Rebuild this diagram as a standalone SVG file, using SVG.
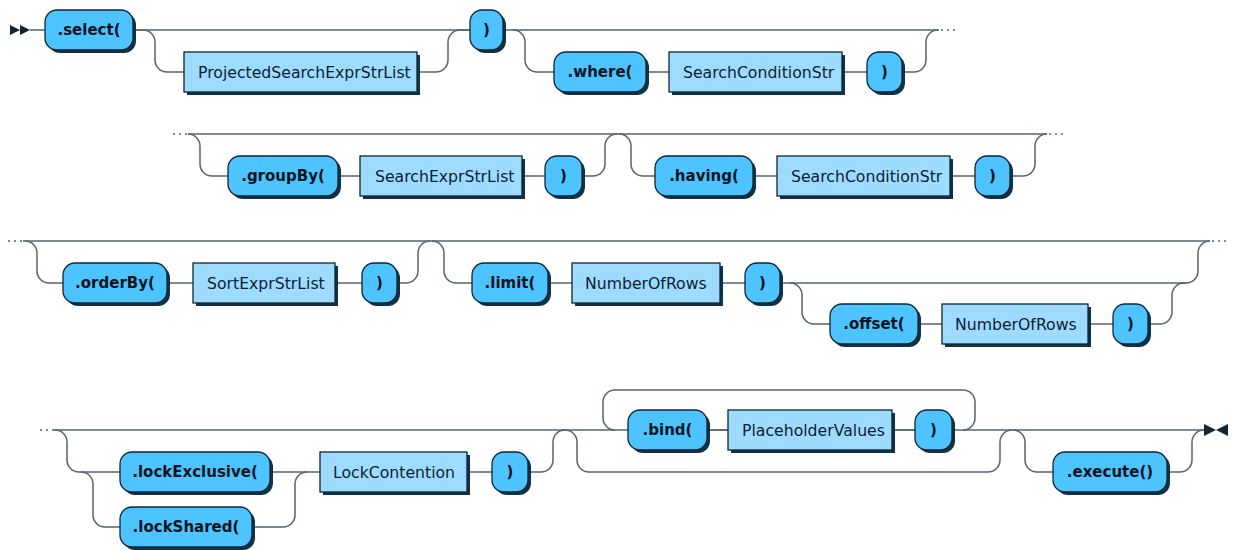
<svg xmlns="http://www.w3.org/2000/svg" width="1234" height="550" viewBox="0 0 1234 550">
<style>
.line{fill:none;stroke:#56646c;stroke-width:1.5}
.dots{fill:none;stroke:#56646c;stroke-width:1.6;stroke-dasharray:2 4}
.mark{fill:#0f2633}
.sh{fill:#0f3246}
.t{fill:#4dc3ff;stroke:#0f2633;stroke-width:1.3}
.n{fill:#9edcff;stroke:#0f2633;stroke-width:1.3}
.tt{font-family:"DejaVu Sans",Verdana,sans-serif;font-weight:bold;font-size:15px;fill:#06141c;text-anchor:middle}
.nt{font-family:"DejaVu Sans",Verdana,sans-serif;font-size:15.7px;fill:#0c1d33}
</style>
<rect width="1234" height="550" fill="#ffffff"/>
<g id="connectors">
<!-- row 1 -->
<polygon class="mark" points="10,25 20,30 10,35"/>
<polygon class="mark" points="20,25 30,30 20,35"/>
<path class="line" d="M30 30 H45"/>
<path class="line" d="M133 30 H470"/>
<path class="line" d="M133 30 H143 a12 12 0 0 1 12 12 V60 a12 12 0 0 0 12 12 H184"/>
<path class="line" d="M417 72 H436 a12 12 0 0 0 12 -12 V42 a12 12 0 0 1 12 -12 H470"/>
<path class="line" d="M503 30 H939"/>
<path class="line" d="M513 30 a12 12 0 0 1 12 12 V60 a12 12 0 0 0 12 12 H554"/>
<path class="line" d="M646 72 H669 M842 72 H867"/>
<path class="line" d="M902 72 H914 a12 12 0 0 0 12 -12 V42 a12 12 0 0 1 12 -12"/>
<path class="dots" d="M941 30 H957"/>
<!-- row 2 -->
<path class="dots" d="M173 134 H189"/>
<path class="line" d="M188 134 H1047"/>
<path class="line" d="M188 134 a12 12 0 0 1 12 12 V164 a12 12 0 0 0 12 12 H228"/>
<path class="line" d="M338 176 H360 M522 176 H545"/>
<path class="line" d="M582 176 H593 a12 12 0 0 0 12 -12 V146 a12 12 0 0 1 12 -12"/>
<path class="line" d="M619 134 a12 12 0 0 1 12 12 V164 a12 12 0 0 0 12 12 H655"/>
<path class="line" d="M753 176 H777 M950 176 H975"/>
<path class="line" d="M1010 176 H1023 a12 12 0 0 0 12 -12 V146 a12 12 0 0 1 12 -12"/>
<path class="dots" d="M1049 134 H1065"/>
<!-- row 3 -->
<path class="dots" d="M8 241 H24"/>
<path class="line" d="M23 241 H1210"/>
<path class="line" d="M25 241 a12 12 0 0 1 12 12 V271 a12 12 0 0 0 12 12 H63"/>
<path class="line" d="M167 283 H193 M335 283 H362"/>
<path class="line" d="M397 283 H406 a12 12 0 0 0 12 -12 V253 a12 12 0 0 1 12 -12"/>
<path class="line" d="M432 241 a12 12 0 0 1 12 12 V271 a12 12 0 0 0 12 12 H472"/>
<path class="line" d="M548 283 H572 M720 283 H745"/>
<path class="line" d="M780 283 H1186"/>
<path class="line" d="M790 283 a12 12 0 0 1 12 12 V312 a12 12 0 0 0 12 12 H830"/>
<path class="line" d="M918 324 H942 M1088 324 H1113"/>
<path class="line" d="M1148 324 H1160 a12 12 0 0 0 12 -12 V295 a12 12 0 0 1 12 -12 H1186 a12 12 0 0 0 12 -12 V253 a12 12 0 0 1 12 -12"/>
<path class="dots" d="M1212 241 H1228"/>
<!-- row 4 -->
<path class="dots" d="M40 430 H55"/>
<path class="line" d="M54 430 H1204"/>
<path class="line" d="M55 430 a12 12 0 0 1 12 12 V460 a12 12 0 0 0 12 12 H120"/>
<path class="line" d="M81 472 a12 12 0 0 1 12 12 V515 a12 12 0 0 0 12 12 H120"/>
<path class="line" d="M270 472 H320"/>
<path class="line" d="M252 527 H283 a12 12 0 0 0 12 -12 V484 a12 12 0 0 1 12 -12"/>
<path class="line" d="M467 472 H492"/>
<path class="line" d="M528 472 H541 a12 12 0 0 0 12 -12 V442 a12 12 0 0 1 12 -12"/>
<path class="line" d="M565 430 a12 12 0 0 1 12 12 V460 a12 12 0 0 0 12 12 H988 a12 12 0 0 0 12 -12 V442 a12 12 0 0 1 12 -12"/>
<path class="line" d="M963 430 a12 12 0 0 0 12 -12 V402 a12 12 0 0 0 -12 -12 H615 a12 12 0 0 0 -12 12 V418 a12 12 0 0 0 12 12"/>
<path class="line" d="M707 430 H728 M892 430 H915"/>
<path class="line" d="M1013 430 a12 12 0 0 1 12 12 V460 a12 12 0 0 0 12 12 H1053"/>
<path class="line" d="M1167 472 H1180 a12 12 0 0 0 12 -12 V442 a12 12 0 0 1 12 -12"/>
<polygon class="mark" points="1204,424 1216,430 1204,436"/>
<polygon class="mark" points="1228,424 1216,430 1228,436"/>
</g>
<g id="select"><rect class="sh" x="48" y="13" width="88" height="40" rx="12"/><rect class="t" x="45" y="10" width="88" height="40" rx="12"/><text class="tt" x="89" y="35">.select(</text></g>
<g id="projectedSearchExprStrList"><rect class="sh" x="187" y="55" width="233" height="40"/><rect class="n" x="184" y="52" width="233" height="40"/><text class="nt" x="198" y="77.5">ProjectedSearchExprStrList</text></g>
<g id="selectClose"><rect class="sh" x="473" y="13" width="33" height="40" rx="12"/><rect class="t" x="470" y="10" width="33" height="40" rx="12"/><text class="tt" x="486.5" y="35">)</text></g>
<g id="where"><rect class="sh" x="557" y="55" width="92" height="40" rx="12"/><rect class="t" x="554" y="52" width="92" height="40" rx="12"/><text class="tt" x="600" y="77">.where(</text></g>
<g id="whereCondition"><rect class="sh" x="672" y="55" width="173" height="40"/><rect class="n" x="669" y="52" width="173" height="40"/><text class="nt" x="683" y="77.5">SearchConditionStr</text></g>
<g id="whereClose"><rect class="sh" x="870" y="55" width="35" height="40" rx="12"/><rect class="t" x="867" y="52" width="35" height="40" rx="12"/><text class="tt" x="884.5" y="77">)</text></g>
<g id="groupBy"><rect class="sh" x="231" y="159" width="110" height="40" rx="12"/><rect class="t" x="228" y="156" width="110" height="40" rx="12"/><text class="tt" x="283" y="181">.groupBy(</text></g>
<g id="searchExprStrList"><rect class="sh" x="363" y="159" width="162" height="40"/><rect class="n" x="360" y="156" width="162" height="40"/><text class="nt" x="375" y="181.5">SearchExprStrList</text></g>
<g id="groupByClose"><rect class="sh" x="548" y="159" width="37" height="40" rx="12"/><rect class="t" x="545" y="156" width="37" height="40" rx="12"/><text class="tt" x="563.5" y="181">)</text></g>
<g id="having"><rect class="sh" x="658" y="159" width="98" height="40" rx="12"/><rect class="t" x="655" y="156" width="98" height="40" rx="12"/><text class="tt" x="704" y="181">.having(</text></g>
<g id="havingCondition"><rect class="sh" x="780" y="159" width="173" height="40"/><rect class="n" x="777" y="156" width="173" height="40"/><text class="nt" x="791" y="181.5">SearchConditionStr</text></g>
<g id="havingClose"><rect class="sh" x="978" y="159" width="35" height="40" rx="12"/><rect class="t" x="975" y="156" width="35" height="40" rx="12"/><text class="tt" x="992.5" y="181">)</text></g>
<g id="orderBy"><rect class="sh" x="66" y="266" width="104" height="40" rx="12"/><rect class="t" x="63" y="263" width="104" height="40" rx="12"/><text class="tt" x="115" y="288">.orderBy(</text></g>
<g id="sortExprStrList"><rect class="sh" x="196" y="266" width="142" height="40"/><rect class="n" x="193" y="263" width="142" height="40"/><text class="nt" x="207" y="288.5">SortExprStrList</text></g>
<g id="orderByClose"><rect class="sh" x="365" y="266" width="35" height="40" rx="12"/><rect class="t" x="362" y="263" width="35" height="40" rx="12"/><text class="tt" x="379.5" y="288">)</text></g>
<g id="limit"><rect class="sh" x="475" y="266" width="76" height="40" rx="12"/><rect class="t" x="472" y="263" width="76" height="40" rx="12"/><text class="tt" x="510" y="288">.limit(</text></g>
<g id="limitRows"><rect class="sh" x="575" y="266" width="148" height="40"/><rect class="n" x="572" y="263" width="148" height="40"/><text class="nt" x="585" y="288.5">NumberOfRows</text></g>
<g id="limitClose"><rect class="sh" x="748" y="266" width="35" height="40" rx="12"/><rect class="t" x="745" y="263" width="35" height="40" rx="12"/><text class="tt" x="762.5" y="288">)</text></g>
<g id="offset"><rect class="sh" x="833" y="307" width="88" height="40" rx="12"/><rect class="t" x="830" y="304" width="88" height="40" rx="12"/><text class="tt" x="874" y="329">.offset(</text></g>
<g id="offsetRows"><rect class="sh" x="945" y="307" width="146" height="40"/><rect class="n" x="942" y="304" width="146" height="40"/><text class="nt" x="955" y="329.5">NumberOfRows</text></g>
<g id="offsetClose"><rect class="sh" x="1116" y="307" width="35" height="40" rx="12"/><rect class="t" x="1113" y="304" width="35" height="40" rx="12"/><text class="tt" x="1130.5" y="329">)</text></g>
<g id="lockExclusive"><rect class="sh" x="123" y="455" width="150" height="40" rx="12"/><rect class="t" x="120" y="452" width="150" height="40" rx="12"/><text class="tt" x="195" y="477">.lockExclusive(</text></g>
<g id="lockShared"><rect class="sh" x="123" y="510" width="132" height="40" rx="12"/><rect class="t" x="120" y="507" width="132" height="40" rx="12"/><text class="tt" x="186" y="532">.lockShared(</text></g>
<g id="lockContention"><rect class="sh" x="323" y="455" width="147" height="40"/><rect class="n" x="320" y="452" width="147" height="40"/><text class="nt" x="333" y="477.5">LockContention</text></g>
<g id="lockClose"><rect class="sh" x="495" y="455" width="36" height="40" rx="12"/><rect class="t" x="492" y="452" width="36" height="40" rx="12"/><text class="tt" x="510" y="477">)</text></g>
<g id="bind"><rect class="sh" x="631" y="413" width="79" height="40" rx="12"/><rect class="t" x="628" y="410" width="79" height="40" rx="12"/><text class="tt" x="667.5" y="435">.bind(</text></g>
<g id="placeholderValues"><rect class="sh" x="731" y="413" width="164" height="40"/><rect class="n" x="728" y="410" width="164" height="40"/><text class="nt" x="742" y="435.5">PlaceholderValues</text></g>
<g id="bindClose"><rect class="sh" x="918" y="413" width="37" height="40" rx="12"/><rect class="t" x="915" y="410" width="37" height="40" rx="12"/><text class="tt" x="933.5" y="435">)</text></g>
<g id="execute"><rect class="sh" x="1056" y="455" width="114" height="40" rx="12"/><rect class="t" x="1053" y="452" width="114" height="40" rx="12"/><text class="tt" x="1110" y="477">.execute()</text></g>
</svg>
